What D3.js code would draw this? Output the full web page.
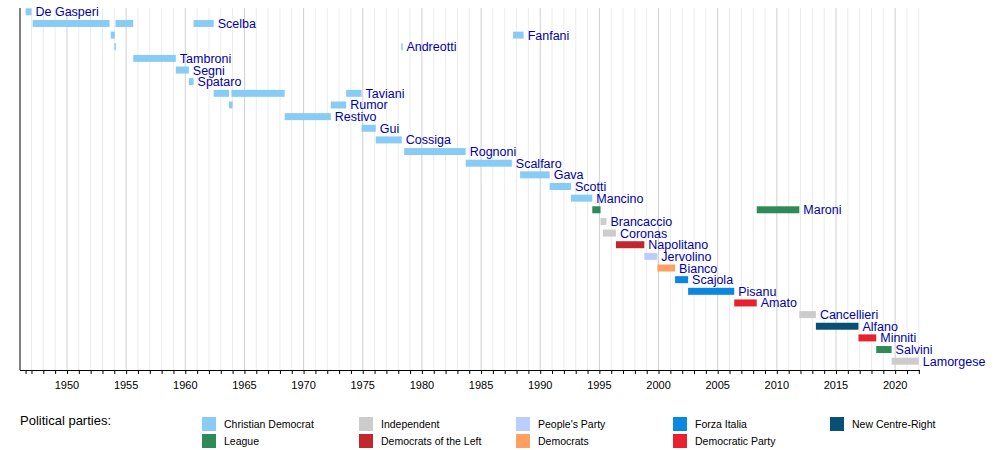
<!DOCTYPE html>
<html><head><meta charset="utf-8">
<script src="https://cdn.jsdelivr.net/npm/d3@7"></script>
<style>body{margin:0;background:#fff}svg{font-family:"Liberation Sans",Arial,sans-serif}</style>
</head><body><svg id="c" width="1000" height="450"></svg>
<script>
const ministers = ["De Gasperi","Scelba","Fanfani","Andreotti","Tambroni","Segni","Spataro","Taviani","Rumor","Restivo","Gui","Cossiga","Rognoni","Scalfaro","Gava","Scotti","Mancino","Maroni","Brancaccio","Coronas","Napolitano","Jervolino","Bianco","Scajola","Pisanu","Amato","Cancellieri","Alfano","Minniti","Salvini","Lamorgese"];
const termMinister = ["De Gasperi","Scelba","Scelba","Scelba","Fanfani","Fanfani","Andreotti","Andreotti","Tambroni","Segni","Spataro","Taviani","Taviani","Taviani","Rumor","Rumor","Restivo","Gui","Cossiga","Rognoni","Scalfaro","Gava","Scotti","Mancino","Maroni","Maroni","Brancaccio","Coronas","Napolitano","Jervolino","Bianco","Scajola","Pisanu","Amato","Cancellieri","Alfano","Minniti","Salvini","Lamorgese"];
const termParty = ["CD","CD","CD","CD","CD","CD","CD","CD","CD","CD","CD","CD","CD","CD","CD","CD","CD","CD","CD","CD","CD","CD","CD","CD","LN","LN","IND","IND","DS","PPI","DEM","FI","FI","PD","IND","NCD","PD","LN","IND"];
const termStart = [1946.5,1947.1,1954.1,1960.7,1953.7,1987.7,1954.0,1978.25,1955.6,1959.2,1960.3,1962.4,1963.9,1973.6,1963.7,1972.3,1968.4,1974.9,1976.1,1978.5,1983.7,1988.3,1990.8,1992.6,1994.4,2008.3,1995.1,1995.3,1996.4,1998.8,1999.9,2001.4,2002.5,2006.4,2011.9,2013.3,2016.9,2018.4,1999.9+19.8];
const termEnd   = [1947.0,1953.6,1955.6,1962.4,1954.05,1988.6,1954.1,1978.35,1959.2,1960.3,1960.7,1963.7,1968.4,1974.9,1964.0,1973.6,1972.3,1976.1,1978.3,1983.7,1987.6,1990.8,1992.6,1994.4,1995.1,2011.9,1995.6,1996.4,1998.8,1999.9,2001.4,2002.5,2006.4,2008.3,2013.3,2016.9,2018.4,2019.7,2022.0];
const partyKeys = ["CD","LN","IND","DS","PPI","DEM","FI","PD","NCD"];
const partyNames = ["Christian Democrat","League","Independent","Democrats of the Left","People's Party","Democrats","Forza Italia","Democratic Party","New Centre-Right"];
const partyColors = ["#88ccf5","#2e8b57","#cccccc","#c1272d","#bbccff","#ffa060","#0a87e0","#e8212f","#0a5075"];
const ticks = [1950,1955,1960,1965,1970,1975,1980,1985,1990,1995,2000,2005,2010,2015,2020];

const svg = d3.select("#c");
const x = d3.scaleLinear().domain([1946.03,2022.1]).range([20,920]);
const y = d3.scaleBand().domain(ministers).range([6,367]).paddingInner(0.4).paddingOuter(0.2);
const col = d3.scaleOrdinal().domain(partyKeys).range(partyColors);

// grid
const years = d3.range(1947,2023);
svg.append("g").selectAll("line").data(years).join("line")
  .attr("x1",d=>x(d)).attr("x2",d=>x(d)).attr("y1",8).attr("y2",370)
  .attr("stroke",d=>d%5===0?"#d0d0d0":"#ececec").attr("stroke-width",1);

// bars
const terms = termMinister.map((m,i)=>({m,p:termParty[i],s:termStart[i],e:termEnd[i]}));
svg.append("g").selectAll("rect").data(terms).join("rect")
  .attr("x",d=>x(d.s)).attr("width",d=>Math.max(1.5,x(d.e)-x(d.s)))
  .attr("y",d=>y(d.m)).attr("height",y.bandwidth()).attr("fill",d=>col(d.p));

// labels
const lastEnd = d3.rollup(terms,v=>d3.max(v,d=>d.e),d=>d.m);
svg.append("g").selectAll("text").data(ministers).join("text")
  .attr("x",d=>x(lastEnd.get(d))+4).attr("y",d=>y(d)+y.bandwidth()/2)
  .attr("dy","0.36em").attr("font-size",12.5).attr("fill","#0000aa").text(d=>d);

// axes
svg.append("line").attr("x1",20).attr("x2",20).attr("y1",8).attr("y2",370).attr("stroke","#000");
const ax = svg.append("g").attr("transform","translate(0,370)")
  .call(d3.axisBottom(x).tickValues(years.concat([1946.5])).tickSize(4).tickFormat(""));
ax.select(".domain").attr("d","M20,0.5H920");
ax.selectAll(".tick line").attr("stroke","#000");
svg.append("g").selectAll("text").data(ticks).join("text")
  .attr("x",d=>x(d)).attr("y",389).attr("text-anchor","middle").attr("font-size",11).text(d=>d);

// legend
svg.append("text").attr("x",20).attr("y",425).attr("font-size",13).text("Political parties:");
const lg = svg.append("g").selectAll("g").data(partyKeys).join("g")
  .attr("transform",(d,i)=>`translate(${202+Math.floor(i/2)*157},${i%2===0?418:435})`);
lg.append("rect").attr("width",14).attr("height",14).attr("y",-1).attr("fill",d=>col(d));
lg.append("text").attr("x",22).attr("y",10).attr("font-size",10.5).text((d,i)=>partyNames[i]);
</script></body></html>
